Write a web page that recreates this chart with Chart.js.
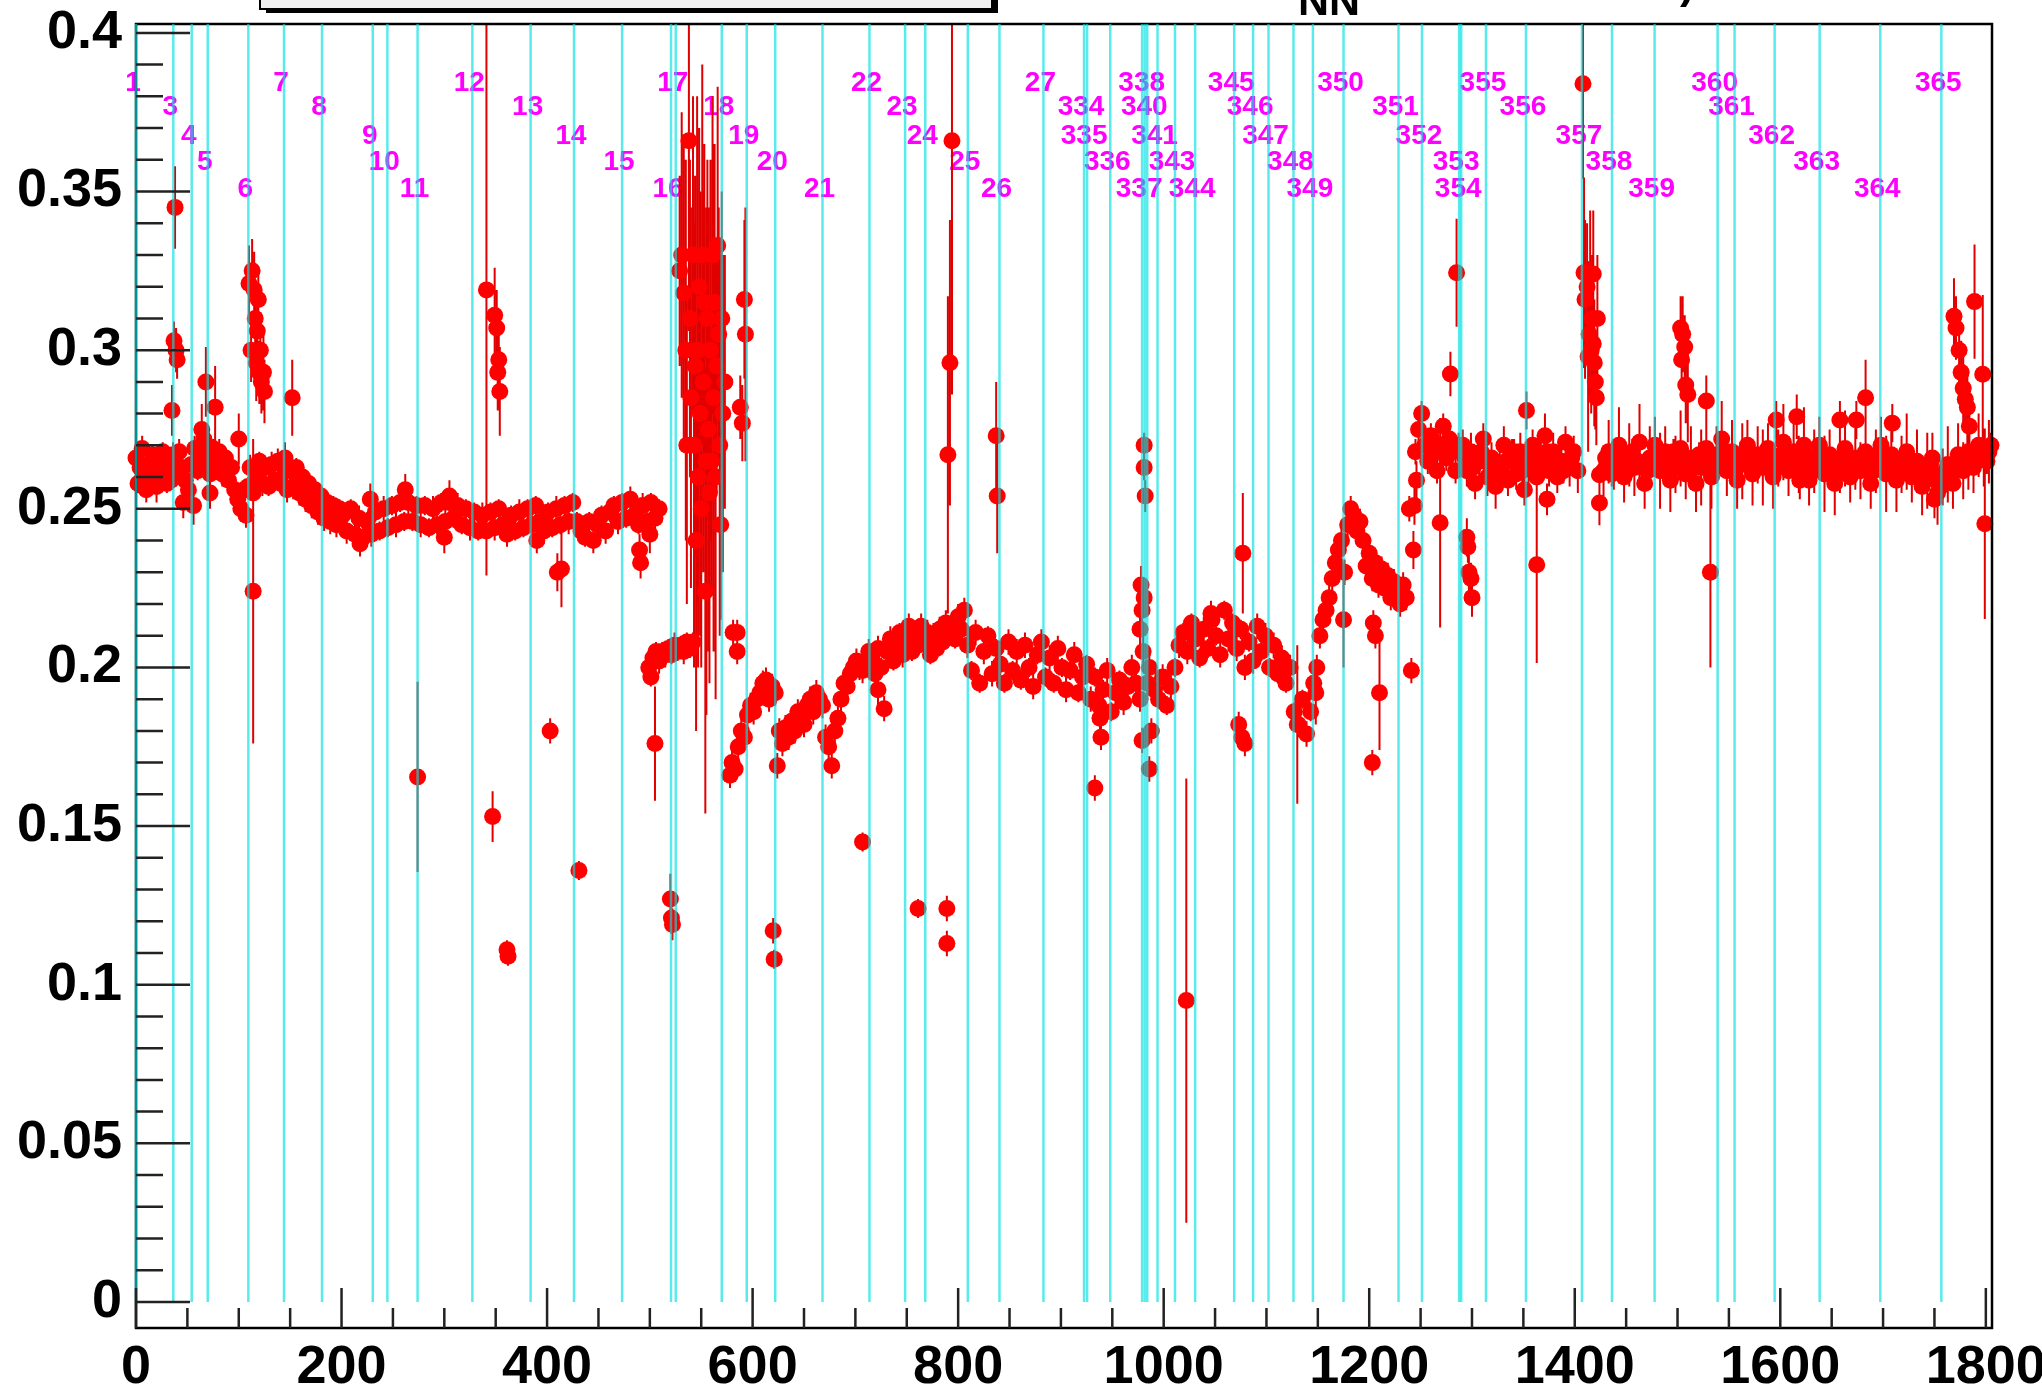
<!DOCTYPE html>
<html>
<head>
<meta charset="utf-8">
<script src="https://cdn.jsdelivr.net/npm/chart.js@4.4.1/dist/chart.umd.min.js"></script>
<style>
  html, body { margin: 0; padding: 0; background: #fff; }
  canvas { display: block; }
</style>
</head>
<body>
<canvas id="effGraph" width="2042" height="1389" style="width:2042px;height:1389px"></canvas>
<script>
// axis ticks
const xTickValues = [0, 200, 400, 600, 800, 1000, 1200, 1400, 1600, 1800];
const yTickValues = [0, 0.05, 0.1, 0.15, 0.2, 0.25, 0.3, 0.35, 0.4];
const yTickLabels = ['0', '0.05', '0.1', '0.15', '0.2', '0.25', '0.3', '0.35', '0.4'];

// day of year and the run index where that day starts
const dayLabels = ['1','3','4','5','6','7','8','9','10','11','12','13','14','15','16','17','18','19','20','21','22','23','24','25','26','27',
  '334','335','336','337','338','340','341','343','344','345','346','347','348','349','350','351','352','353','354','355','356','357','358','359','360','361','362','363','364','365'];
const dayStartRun = [0, 36.3, 54.2, 69.8, 109.3, 144, 181, 230.4, 244.6, 274, 327.3, 384, 426.2, 473, 520.6, 525.2, 570, 594.3, 622, 668, 713.7, 748.4, 768, 809.4, 840.2, 883,
  922.5, 925.5, 948, 979, 981.5, 984, 994, 1011, 1030.6, 1068.6, 1087, 1102, 1126.3, 1145.2, 1175, 1228.5, 1251.3, 1287.5, 1289.5, 1313.6, 1352.5, 1407, 1436.2, 1477.7, 1539, 1555.5, 1594.5, 1638.3, 1697.3, 1756.7];

// [run, efficiency, error]
const days1to5 = [
  [0,.266,.004],[2,.258,.003],[4,.263,.003],[6,.269,.004],[8,.261,.003],[10,.256,.004],[12,.264,.003],[14,.259,.003],[16,.267,.003],[18,.262,.004],
  [20,.257,.005],[22,.265,.003],[24,.260,.003],[26,.268,.003],[28,.262,.004],[30,.258,.003],[32,.265,.004],[34,.259,.003],[36,.267,.004],[39,.262,.003],
  [42,.268,.004],[45,.263,.003],[48,.259,.004],[51,.256,.004],[54,.264,.003],[57,.269,.004],[60,.262,.003],[63,.267,.004],[66,.272,.004],[69,.265,.003],
  [72,.261,.004],[75,.269,.003],[78,.264,.003],[81,.268,.004],[84,.261,.004],[87,.266,.003],[90,.259,.004],[93,.263,.004],[96,.256,.003],[99,.253,.004],
  [102,.250,.004],[105,.256,.003],[107,.248,.004],
  [38,.345,.013],[37,.303,.006],[39,.300,.007],[40,.297,.006],[35,.281,.008],[68,.290,.011],[77,.282,.013],[64,.275,.008],[56,.251,.006],[46,.252,.005],
  [100,.272,.008],[72,.255,.005]
];
const day6Burst = [
  [110,.321,.012],[112,.300,.010],[113,.325,.010],[115,.319,.012],[116,.310,.010],[117,.296,.012],[118,.306,.015],[119,.316,.010],[120,.293,.010],
  [121,.300,.012],[122,.290,.010],[124,.293,.012],[125,.287,.010],[114,.224,.048]
];
const days6to16 = [
  [109,.257,.003],[111,.263,.004],[114,.255,.003],[117,.261,.004],[120,.265,.003],[123,.258,.004],[126,.263,.003],
  [129,.257,.003],[132,.264,.004],[135,.259,.003],[138,.265,.004],[141,.258,.003],[144,.263,.003],[147,.256,.004],[150,.262,.003],[153,.257,.004],
  [156,.263,.003],[159,.255,.004],[162,.260,.003],[165,.253,.004],[168,.258,.003],[171,.251,.004],[174,.256,.003],[177,.249,.004],[180,.254,.003],
  [183,.247,.004],[186,.252,.003],[189,.246,.004],[192,.251,.003],[195,.245,.004],[198,.250,.003],
  [152,.285,.012],[145,.266,.005],
  [201,.248,.003],[205,.243,.004],[209,.250,.003],[213,.242,.003],[217,.247,.004],[221,.241,.003],[225,.246,.003],[229,.242,.004],[233,.249,.003],
  [237,.243,.003],[241,.250,.004],[245,.244,.003],[249,.251,.003],[253,.245,.004],[257,.252,.003],[261,.246,.003],[265,.252,.004],[269,.246,.003],
  [273,.251,.003],[277,.245,.004],[281,.251,.003],[285,.244,.003],[289,.250,.004],[293,.245,.003],[297,.252,.003],[301,.246,.004],[305,.252,.003],
  [309,.247,.003],[313,.251,.004],[317,.245,.003],[321,.250,.003],[325,.244,.004],[329,.249,.003],[333,.243,.003],[337,.248,.004],[341,.243,.003],
  [345,.249,.003],[349,.244,.004],[353,.250,.003],[357,.245,.003],[361,.242,.004],[365,.248,.003],[369,.243,.003],[373,.249,.004],[377,.244,.003],
  [381,.250,.003],[385,.245,.004],[389,.251,.003],[393,.246,.003],[397,.243,.004],[401,.249,.003],[405,.244,.003],[409,.250,.004],[413,.245,.003],
  [417,.251,.003],[421,.246,.004],[425,.252,.003],[429,.246,.003],[433,.243,.004],[437,.241,.003],[441,.246,.003],[445,.240,.004],[449,.245,.003],
  [453,.248,.003],[457,.243,.004],[461,.249,.003],[465,.251,.003],[469,.246,.004],[473,.252,.003],[477,.247,.003],[481,.253,.004],[485,.248,.003],
  [489,.245,.003],[493,.251,.004],[497,.246,.003],[501,.252,.003],[505,.247,.004],[509,.250,.003],
  [228,.253,.005],[262,.256,.005],[305,.254,.005],[274,.1655,.03],[341,.319,.09],[347,.153,.008],[361,.111,.003],[362,.109,.003],[349,.311,.015],
  [351,.307,.012],[353,.297,.015],[352,.293,.012],[354,.287,.014],[403,.180,.004],[410,.230,.006],[414,.231,.012],[431,.136,.003],[490,.237,.005],
  [491,.233,.005],[500,.242,.006],[218,.239,.004],[300,.241,.005],[390,.240,.004],
  [499,.200,.004],[501,.197,.003],[503,.203,.004],[506,.205,.003],[509,.202,.004],[512,.205,.003],[515,.204,.004],[518,.206,.003],[521,.204,.003],
  [524,.207,.004],[527,.205,.003],[530,.207,.003],[533,.205,.004],[536,.208,.003],[539,.206,.003],[542,.208,.003],
  [505,.176,.018],[520,.127,.008],[521,.121,.005],[522,.119,.005]
];
const days17to18Burst = [
  [529,.325,.030],[531,.330,.045],[533,.318,.050],[535,.300,.060],[538,.366,.060],[539,.310,.050],[540,.285,.060],[542,.330,.050],[543,.270,.070],
  [544,.295,.060],[546,.300,.080],[547,.260,.060],[548,.320,.050],[549,.280,.070],[550,.250,.050],[551,.330,.060],[552,.290,.060],[554,.224,.070],
  [555,.265,.080],[556,.310,.050],[557,.275,.070],[558,.255,.060],[559,.300,.060],[560,.265,.040],[561,.330,.050],[562,.285,.080],[563,.315,.050],
  [564,.260,.070],[565,.295,.040],[566,.333,.050],[567,.305,.040],[568,.270,.060],[569,.245,.030],[570,.310,.040],[571,.280,.050],[573,.290,.040],
  [536,.270,.050],[545,.240,.060],[553,.315,.050],
  [588,.282,.010],[590,.277,.012],[592,.316,.025],[593,.305,.040],[581,.211,.004],[585,.211,.004],[585,.205,.004]
];
const days18to27 = [
  [578,.166,.004],[580,.170,.004],[583,.168,.004],[586,.175,.004],[589,.180,.004],[592,.178,.004],[595,.185,.004],[598,.188,.004],[601,.186,.004],
  [604,.190,.004],[607,.192,.004],[610,.195,.004],[613,.196,.004],[616,.190,.004],[619,.194,.004],[622,.192,.004],[624,.169,.004],[626,.180,.004],
  [629,.176,.004],[632,.181,.004],[635,.178,.004],[638,.183,.004],[641,.180,.004],[644,.186,.004],[647,.184,.004],[650,.182,.004],[653,.188,.004],
  [656,.190,.004],[659,.186,.004],[662,.192,.004],[665,.190,.004],[668,.188,.004],[671,.178,.004],[674,.175,.004],[677,.169,.004],[680,.180,.004],
  [683,.184,.004],[686,.190,.004],[689,.195,.004],[692,.194,.004],[695,.198,.004],[698,.200,.004],[701,.202,.004],[704,.200,.004],[707,.199,.004],
  [710,.202,.004],[713,.205,.004],
  [620,.117,.004],[621,.108,.003],[707,.145,.003],
  [716,.203,.004],[719,.198,.003],[722,.206,.004],[725,.200,.003],[728,.187,.004],[731,.205,.003],[734,.209,.004],[737,.202,.003],[740,.207,.004],
  [743,.211,.003],[746,.204,.004],[749,.209,.003],[752,.213,.004],[755,.205,.003],[758,.210,.004],[761,.207,.003],[764,.213,.004],[767,.208,.003],
  [770,.211,.004],[773,.204,.003],[776,.210,.004],[779,.206,.003],[782,.212,.004],[785,.208,.003],[788,.214,.004],[791,.210,.003],[794,.213,.004],
  [797,.209,.003],[800,.216,.004],[803,.212,.003],[806,.218,.004],
  [761,.124,.003],[789,.124,.004],[789,.113,.004],[794,.366,.080],[792,.296,.045],[790,.267,.050],[837,.273,.017],[838,.254,.018],[722,.193,.005],
  [809,.207,.004],[813,.199,.003],[817,.211,.004],[821,.195,.003],[825,.205,.004],[829,.210,.003],[833,.198,.004],[837,.206,.003],[841,.201,.004],
  [845,.195,.003],[849,.208,.004],[853,.199,.003],[857,.205,.004],[861,.196,.003],[865,.207,.004],[869,.200,.003],[873,.194,.004],[877,.204,.003],
  [881,.208,.004],[885,.197,.003],[889,.203,.004],[893,.195,.003],[897,.206,.004],[901,.200,.003],[905,.193,.004],[909,.199,.003],[913,.204,.004],
  [917,.192,.003],[921,.197,.004],[925,.201,.003]
];
const days334to344 = [
  [929,.190,.004],[933,.197,.003],[937,.188,.004],[941,.193,.003],[945,.199,.004],[949,.186,.003],[953,.192,.004],[957,.196,.003],[961,.189,.004],
  [965,.194,.003],[969,.200,.004],[973,.195,.003],[977,.190,.004],
  [933,.162,.004],[938,.184,.004],[939,.178,.004],
  [981,.270,.004],[981,.263,.004],[982,.254,.005],[978,.226,.006],[981,.222,.006],[979,.218,.005],[977,.212,.005],[980,.205,.006],[979,.177,.004],
  [986,.168,.004],[988,.180,.004],[984,.195,.005],[986,.200,.004],
  [991,.193,.004],[995,.190,.003],[999,.197,.004],[1003,.188,.003],[1007,.194,.004],[1011,.200,.003],[1015,.207,.004],[1019,.211,.003],[1023,.205,.004],
  [1027,.214,.003],[1031,.209,.004],[1035,.203,.003],[1039,.212,.004],[1043,.206,.003],[1047,.215,.004],[1051,.210,.003],[1055,.204,.004],[1059,.218,.003],
  [1063,.209,.004],[1067,.214,.003],[1071,.206,.004],[1075,.212,.003],[1079,.200,.004],[1083,.208,.003],[1087,.202,.004],
  [1022,.095,.070],[1077,.236,.019],[1073,.182,.004],[1076,.178,.004],[1079,.176,.004],[1046,.217,.004]
];
const days345to356 = [
  [1091,.213,.004],[1095,.205,.003],[1099,.210,.004],[1103,.200,.003],[1107,.207,.004],[1111,.198,.003],[1115,.203,.004],[1119,.195,.003],[1123,.200,.004],
  [1127,.186,.003],[1131,.182,.004],[1135,.190,.003],[1139,.179,.004],[1143,.186,.003],
  [1130,.182,.025],
  [1146,.195,.004],[1149,.200,.004],[1152,.210,.004],[1155,.215,.004],[1158,.218,.004],[1161,.222,.004],[1164,.228,.004],[1167,.233,.004],[1170,.237,.004],
  [1173,.240,.004],[1176,.230,.004],[1179,.245,.004],[1182,.250,.004],[1185,.248,.004],[1188,.243,.004],[1191,.246,.004],[1194,.240,.004],[1197,.232,.004],
  [1200,.236,.004],[1203,.228,.004],[1206,.233,.004],[1209,.226,.004],[1212,.231,.004],[1215,.225,.004],[1218,.229,.004],[1221,.222,.004],[1224,.227,.004],
  [1227,.224,.004],[1230,.220,.004],[1233,.226,.004],[1236,.222,.004],
  [1175,.215,.015],[1148,.192,.010],[1204,.214,.004],[1206,.210,.004],[1210,.192,.018],[1203,.170,.004],[1241,.199,.004],
  [1239,.250,.004],[1245,.268,.004],[1248,.275,.004],[1251,.280,.004],[1254,.270,.004],[1257,.265,.004],[1260,.273,.004],[1263,.268,.004],[1266,.262,.004],
  [1269,.270,.004],[1272,.276,.004],[1275,.266,.004],[1278,.272,.004],[1281,.268,.004],[1284,.262,.004],[1287,.270,.004],
  [1243,.237,.006],[1244,.251,.006],[1246,.259,.006],[1269,.2456,.033],[1279,.2925,.007],[1285,.3244,.017],
  [1295,.241,.006],[1296,.238,.005],[1297,.230,.006],[1299,.228,.005],[1300,.222,.006],
  [1291,.270,.005],[1295,.262,.005],[1299,.268,.006],[1303,.258,.005],[1307,.265,.007],[1311,.272,.005],[1315,.260,.006],[1319,.266,.005],[1323,.257,.007],
  [1327,.263,.005],[1331,.270,.006],[1335,.259,.005],[1339,.265,.007],[1343,.261,.005],[1347,.268,.006],[1351,.256,.005],[1355,.264,.007],[1359,.270,.005],
  [1363,.260,.006],[1367,.266,.005],[1371,.273,.007],[1375,.262,.005],[1379,.268,.006],[1383,.260,.005],[1387,.265,.007],[1391,.271,.005],[1395,.263,.006],
  [1399,.268,.005],[1403,.262,.007],
  [1293,.266,.004],[1301,.263,.004],[1309,.268,.004],[1317,.264,.004],[1325,.261,.004],[1333,.265,.004],[1341,.268,.004],[1349,.262,.004],[1357,.267,.004],
  [1365,.264,.004],[1373,.268,.004],[1381,.265,.004],[1389,.262,.004],[1397,.266,.004],
  [1353,.281,.006],[1363,.2324,.031],[1373,.253,.005]
];
const day357Burst = [
  [1408,.384,.030],[1409,.3244,.030],[1410,.316,.025],[1412,.320,.020],[1413,.298,.030],[1414,.305,.020],[1415,.324,.020],[1417,.310,.020],[1418,.302,.015],
  [1419,.296,.020],[1420,.290,.015],[1421,.285,.015],[1416,.300,.020],[1418,.324,.020],[1422,.310,.020],
  [1424,.2607,.006],[1424,.2518,.007]
];
const days357to365 = [
  [1428,.262,.008],[1433,.268,.010],[1438,.264,.008],[1443,.270,.012],[1448,.260,.008],[1453,.267,.010],[1458,.263,.009],[1463,.271,.012],[1468,.258,.008],
  [1473,.266,.010],[1478,.270,.009],[1483,.262,.012],[1488,.268,.008],[1493,.259,.010],[1498,.264,.009],[1503,.269,.012],[1508,.261,.008],[1513,.266,.010],
  [1518,.258,.009],[1523,.263,.012],[1528,.269,.008],[1533,.260,.010],[1538,.267,.009],[1543,.272,.012],[1548,.262,.008],[1553,.268,.010],[1558,.259,.009],
  [1563,.265,.012],[1568,.270,.008],[1573,.261,.010],[1578,.267,.009],[1583,.263,.012],[1588,.269,.008],[1593,.260,.010],[1598,.266,.009],[1603,.271,.012],
  [1608,.262,.008],[1613,.268,.010],[1618,.264,.009],[1623,.270,.012],[1628,.259,.008],[1633,.265,.010],[1638,.270,.009],[1643,.261,.012],[1648,.267,.008],
  [1653,.258,.010],[1658,.264,.009],[1663,.269,.012],[1668,.260,.008],[1673,.266,.010],[1678,.262,.009],[1683,.268,.012],[1688,.258,.008],[1693,.265,.010],
  [1698,.270,.009],[1703,.261,.012],[1708,.267,.008],[1713,.259,.010],[1718,.264,.009],[1723,.268,.012],[1728,.260,.008],[1733,.265,.010],[1738,.257,.009],
  [1743,.262,.012],[1748,.266,.008],[1753,.255,.010],[1758,.260,.009],[1763,.264,.012],[1768,.258,.008],[1773,.267,.010],[1778,.262,.009],[1783,.268,.012],
  [1788,.263,.008],[1793,.270,.010],[1798,.266,.009],[1803,.268,.010],
  [1430,.266,.004],[1436,.261,.004],[1441,.266,.004],[1446,.264,.004],[1451,.262,.004],[1456,.268,.004],[1461,.265,.004],[1466,.263,.004],[1471,.262,.004],
  [1476,.265,.004],[1481,.267,.004],[1486,.263,.004],[1491,.265,.004],[1496,.268,.004],[1501,.263,.004],[1506,.265,.004],[1511,.262,.004],[1516,.264,.004],
  [1521,.267,.004],[1526,.264,.004],[1531,.266,.004],[1536,.263,.004],[1541,.265,.004],[1546,.268,.004],[1551,.264,.004],[1556,.263,.004],[1561,.267,.004],
  [1566,.264,.004],[1571,.266,.004],[1576,.263,.004],[1581,.266,.004],[1586,.264,.004],[1591,.266,.004],[1596,.263,.004],[1601,.267,.004],[1606,.265,.004],
  [1611,.264,.004],[1616,.266,.004],[1621,.263,.004],[1626,.266,.004],[1631,.262,.004],[1636,.267,.004],[1641,.265,.004],[1646,.263,.004],[1651,.263,.004],
  [1656,.261,.004],[1661,.266,.004],[1666,.264,.004],[1671,.262,.004],[1676,.265,.004],[1681,.264,.004],[1686,.262,.004],[1691,.262,.004],[1696,.267,.004],
  [1701,.265,.004],[1706,.263,.004],[1711,.262,.004],[1716,.261,.004],[1721,.266,.004],[1726,.263,.004],[1731,.262,.004],[1736,.261,.004],[1741,.259,.004],
  [1746,.264,.004],[1751,.259,.004],[1756,.257,.004],[1761,.262,.004],[1766,.261,.004],[1771,.263,.004],[1776,.265,.004],[1781,.264,.004],[1786,.266,.004],
  [1791,.267,.004],[1796,.268,.004],[1801,.265,.004],[1805,.270,.004],
  [1503,.307,.010],[1505,.305,.012],[1507,.301,.010],[1504,.297,.010],[1508,.289,.012],[1510,.286,.015],[1528,.284,.008],[1532,.230,.030],[1596,.278,.006],
  [1616,.279,.007],[1619,.259,.006],[1658,.278,.006],[1674,.278,.006],[1683,.285,.012],[1709,.277,.006],[1769,.3107,.012],[1771,.307,.010],[1774,.300,.012],
  [1776,.293,.010],[1778,.288,.012],[1780,.2845,.010],[1782,.282,.012],[1784,.276,.010],[1789,.3153,.018],[1797,.2924,.025],[1799,.2453,.030],[1750,.253,.006]
];

const allRuns = [].concat(days1to5, day6Burst, days6to16, days17to18Burst, days18to27,
  days334to344, days345to356, day357Burst, days357to365);

const FONT = '"Liberation Sans", Helvetica, Arial, sans-serif';
// vertical positions (in efficiency units) of the five staggered label rows
const labelRows = [0.3842, 0.3764, 0.3673, 0.3591, 0.3506];

// magenta day labels and red error bars go under the markers
const underlay = {
  id: 'underlay',
  beforeDatasetsDraw(chart) {
    const { ctx, chartArea: a, scales: { x, y } } = chart;
    ctx.save();
    ctx.fillStyle = '#ff00ff';
    ctx.font = 'bold 28px ' + FONT;
    ctx.textAlign = 'center';
    ctx.textBaseline = 'middle';
    dayLabels.forEach((d, i) => {
      ctx.fillText(d, x.getPixelForValue(dayStartRun[i]) - 3, y.getPixelForValue(labelRows[i % 5]));
    });

    ctx.beginPath();
    ctx.rect(a.left - 20, a.top, a.right - a.left + 40, a.bottom - a.top);
    ctx.clip();
    ctx.strokeStyle = '#e00000';
    ctx.lineWidth = 2;
    ctx.beginPath();
    allRuns.forEach(p => {
      const px = x.getPixelForValue(p[0]);
      ctx.moveTo(px, y.getPixelForValue(p[1] - p[2]));
      ctx.lineTo(px, y.getPixelForValue(p[1] + p[2]));
    });
    ctx.stroke();
    ctx.restore();
  }
};

// frame, cyan day boundaries and inward ROOT-style ticks
const overlay = {
  id: 'overlay',
  afterDatasetsDraw(chart) {
    const { ctx, chartArea: a, scales: { x, y } } = chart;
    ctx.save();
    ctx.strokeStyle = '#000';
    ctx.lineWidth = 2.5;
    ctx.strokeRect(a.left, a.top, a.right - a.left, a.bottom - a.top);

    ctx.strokeStyle = 'rgba(0,225,225,0.65)';
    ctx.lineWidth = 2.5;
    const y0 = y.getPixelForValue(0);
    dayStartRun.forEach(r => {
      const px = Math.max(x.getPixelForValue(r), a.left);
      ctx.beginPath();
      ctx.moveTo(px, y0);
      ctx.lineTo(px, a.top);
      ctx.stroke();
    });

    ctx.strokeStyle = '#222';
    ctx.lineWidth = 2.5;
    ctx.beginPath();
    for (let k = 0; k <= 40; k++) {
      const py = y.getPixelForValue(k / 100);
      const len = k % 5 === 0 ? 54 : 27;
      ctx.moveTo(a.left, py);
      ctx.lineTo(a.left + len, py);
    }
    for (let v = 0; v <= 1800; v += 50) {
      const px = x.getPixelForValue(v);
      const len = v % 200 === 0 ? 40 : 20;
      ctx.moveTo(px, a.bottom);
      ctx.lineTo(px, a.bottom - len);
    }
    ctx.stroke();
    ctx.restore();
  },
  afterDraw(chart) {
    const { ctx } = chart;
    ctx.save();
    // title box running off the top edge
    ctx.fillStyle = '#000';
    ctx.fillRect(266, -10, 732, 23);
    ctx.fillStyle = '#f0f0f0';
    ctx.fillRect(260, -10, 732, 19);
    ctx.strokeStyle = '#000';
    ctx.lineWidth = 2;
    ctx.strokeRect(260, -10, 732, 19);
    ctx.fillStyle = '#000';
    ctx.font = 'bold 43px ' + FONT;
    ctx.textBaseline = 'alphabetic';
    ctx.fillText('NN', 1298, 15);
    ctx.fillText(')', 1680, -2);
    ctx.restore();
  }
};

new Chart(document.getElementById('effGraph'), {
  type: 'scatter',
  data: {
    datasets: [{
      data: allRuns.map(p => ({ x: p[0], y: p[1] })),
      backgroundColor: '#ff0000',
      borderWidth: 0,
      pointRadius: 8.5,
      pointHoverRadius: 8.5,
      clip: false
    }]
  },
  options: {
    responsive: false,
    animation: false,
    events: [],
    devicePixelRatio: 1,
    layout: { autoPadding: false, padding: { top: 24, right: 50, bottom: 0, left: 0 } },
    plugins: { legend: { display: false }, tooltip: { enabled: false } },
    scales: {
      x: {
        type: 'linear',
        min: 0,
        max: 1806,
        afterBuildTicks: s => { s.ticks = xTickValues.map(v => ({ value: v })); },
        afterFit: s => { s.height = 61; s.paddingLeft = 0; s.paddingRight = 0; },
        grid: { display: false, drawTicks: false },
        border: { display: false },
        ticks: {
          color: '#000', padding: 8, maxRotation: 0, autoSkip: false,
          font: { family: FONT, size: 54, weight: 'bold' },
          callback: v => String(v)
        }
      },
      y: {
        min: -0.0082,
        max: 0.4028,
        afterBuildTicks: s => { s.ticks = yTickValues.map(v => ({ value: v })); },
        afterFit: s => { s.width = 136; s.paddingTop = 0; s.paddingBottom = 0; },
        grid: { display: false, drawTicks: false },
        border: { display: false },
        ticks: {
          color: '#000', padding: 14, autoSkip: false,
          font: { family: FONT, size: 54, weight: 'bold' },
          callback: (v, i) => yTickLabels[i]
        }
      }
    }
  },
  plugins: [underlay, overlay]
});
</script>
</body>
</html>
